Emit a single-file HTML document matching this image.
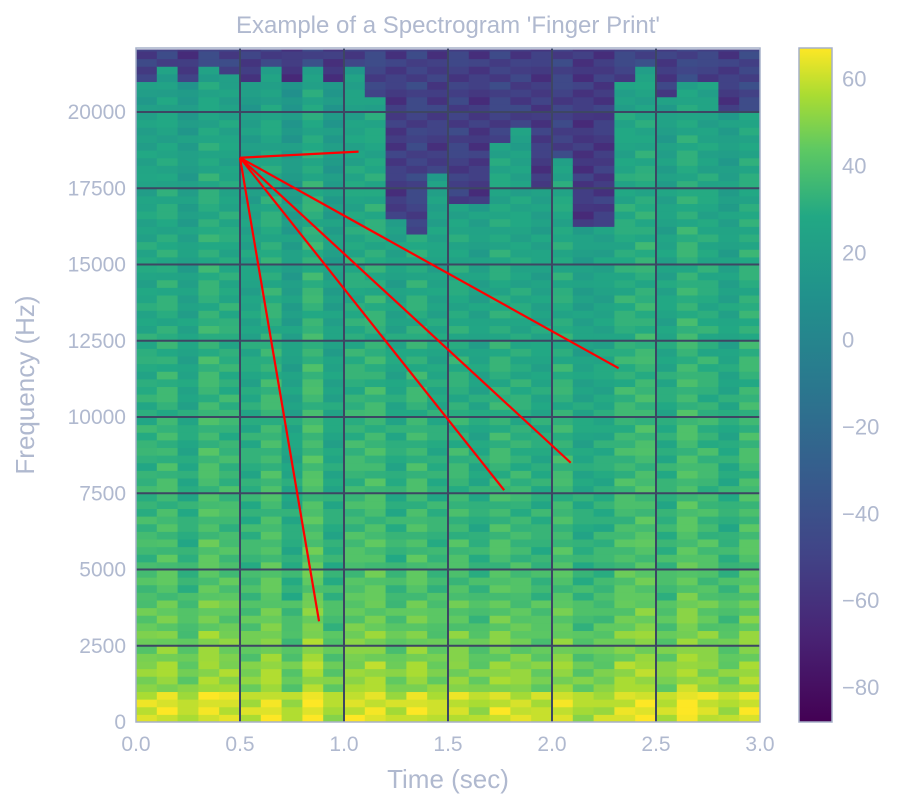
<!DOCTYPE html>
<html><head><meta charset="utf-8">
<style>
html,body{margin:0;padding:0;background:#fff;}
svg{display:block;font-family:"Liberation Sans",sans-serif;}
</style></head>
<body>
<svg id="chart" width="903" height="810">
<text x="448" y="33" text-anchor="middle" font-size="24" fill="#b0b9cf">Example of a Spectrogram 'Finger Print'</text>
<g id="heat"></g>
<g id="grid"></g>
<g id="arrows"></g>
<rect x="136" y="48" width="624" height="674" fill="none" stroke="#a6b0c8" stroke-width="1.5"/>
<g id="xt"></g>
<g id="yt"></g>
<text x="448" y="788" text-anchor="middle" font-size="26" fill="#b0b9cf">Time (sec)</text>
<text transform="translate(34,385) rotate(-90)" text-anchor="middle" font-size="26" fill="#b0b9cf">Frequency (Hz)</text>
<defs><linearGradient id="vir" x1="0" y1="1" x2="0" y2="0"></linearGradient></defs>
<rect x="799" y="48" width="33" height="674" fill="url(#vir)" stroke="#a6b0c8" stroke-width="1.5"/>
<g id="ct"></g>
</svg>
<script>
const xTicks=[0,0.5,1,1.5,2,2.5,3];
const yTicks=[0,2500,5000,7500,10000,12500,15000,17500,20000];
const cTicks=[60,40,20,0,-20,-40,-60,-80];
// dark-region boundary per 0.1s column (Hz above which energy is low)
const darkTop=[21000,21300,21000,21500,21200,21000,21400,21000,21500,21000,21300,20500,16500,16000,18000,17000,16800,19000,19500,17500,18500,16200,16200,21000,21500,20500,21000,20800,20000,20000];
// per-column level offset (dB)
const colOffset=[0,3,-4,5,2,-2,4,-6,6,-5,2,4,-3,3,-2,1,-4,2,0,-3,2,-5,-3,3,5,-2,6,2,-3,4];
// base level per 1000Hz band, 0..22kHz (dB)
const freqProfile=[60,50,46,42,38,36,34,33,32,31,30,29,28,27,26,26,25,24,23,22,20,17];
// fine stripe modulation repeating over 250Hz rows (dB)
const stripe=[3,-2,5,-4,1,-3,4,-1,2,-5,0,3];
const darkLevel=-52;
const X0=136,X1=760,Y0=722,FMAX=22050,PY=76.25/2500;
const xs=t=>X0+(X1-X0)*t/3, ys=f=>Y0-f*PY;
const CMIN=-88,CMAX=67;
const vstops=[[0,[68,1,84]],[0.13,[72,36,117]],[0.25,[65,68,135]],[0.38,[53,95,141]],[0.5,[42,120,142]],[0.63,[33,145,140]],[0.75,[34,168,132]],[0.85,[94,201,98]],[0.93,[170,220,50]],[1,[253,231,37]]];
function vir(v){let t=Math.max(0,Math.min(1,(v-CMIN)/(CMAX-CMIN)));for(let i=1;i<vstops.length;i++){if(t<=vstops[i][0]){const a=vstops[i-1],b=vstops[i],u=(t-a[0])/(b[0]-a[0]);return 'rgb('+a[1].map((c,k)=>Math.round(c+(b[1][k]-c)*u)).join(',')+')';}}return 'rgb(253,231,37)';}
const NS='http://www.w3.org/2000/svg';
function mk(tag,attrs,parent){const e=document.createElementNS(NS,tag);for(const k in attrs)e.setAttribute(k,attrs[k]);parent.appendChild(e);return e;}
const heat=document.getElementById('heat');
const rowHz=250;
for(let c=0;c<darkTop.length;c++){
  const t0=c*0.1,x=xs(t0),w=xs(t0+0.1)-x;
  for(let r=0;r*rowHz<FMAX;r++){
    const f=r*rowHz, band=Math.min(freqProfile.length-1,Math.floor(f/1000));
    let v=freqProfile[band]+colOffset[c]+stripe[(r+c*5)%stripe.length];
    if(f>=darkTop[c]) v=darkLevel+colOffset[c]+stripe[(r+c*3)%stripe.length]*1.5;
    const y1=ys(Math.min(FMAX,f+rowHz)), y2=ys(f);
    const e=mk('rect',{x:x.toFixed(2),y:y1.toFixed(2),width:(w+0.5).toFixed(2),height:(y2-y1+0.5).toFixed(2),fill:vir(v)},heat);
    
    
  }
}
const grid=document.getElementById('grid');
xTicks.slice(1,-1).forEach(t=>{const l=mk('line',{x1:xs(t),x2:xs(t),y1:48,y2:722,stroke:'#3d4663','stroke-width':2},grid);});
yTicks.slice(1).forEach(f=>{const l=mk('line',{x1:136,x2:760,y1:ys(f),y2:ys(f),stroke:'#3d4663','stroke-width':2},grid);});
const origin=[0.5,18500];
const lineEnds=[[1.07,18700],[2.32,11600],[2.09,8500],[1.77,7600],[0.88,3300]];
const ar=document.getElementById('arrows');
lineEnds.forEach(p=>{const l=mk('line',{x1:xs(origin[0]),y1:ys(origin[1]),x2:xs(p[0]),y2:ys(p[1]),stroke:'#ff0000','stroke-width':2.2},ar);});
const xt=document.getElementById('xt');
xTicks.forEach(t=>{const e=mk('text',{x:xs(t),y:751,'text-anchor':'middle','font-size':21,fill:'#b0b9cf'},xt);e.textContent=t.toFixed(1);});
const yt=document.getElementById('yt');
yTicks.forEach(f=>{const e=mk('text',{x:126,y:ys(f)+7,'text-anchor':'end','font-size':21,fill:'#b0b9cf'},yt);e.textContent=f;});
const g=document.getElementById('vir');
vstops.forEach(s=>{mk('stop',{offset:s[0],'stop-color':'rgb('+s[1].join(',')+')'},g);});
const cy=v=>722-(v-CMIN)/(CMAX-CMIN)*674;
const ct=document.getElementById('ct');
cTicks.forEach(v=>{const e=mk('text',{x:842,y:cy(v)+8,'font-size':22,fill:'#b0b9cf'},ct);e.textContent=v<0?'\u2212'+Math.abs(v):String(v);});
</script>
</body></html>
